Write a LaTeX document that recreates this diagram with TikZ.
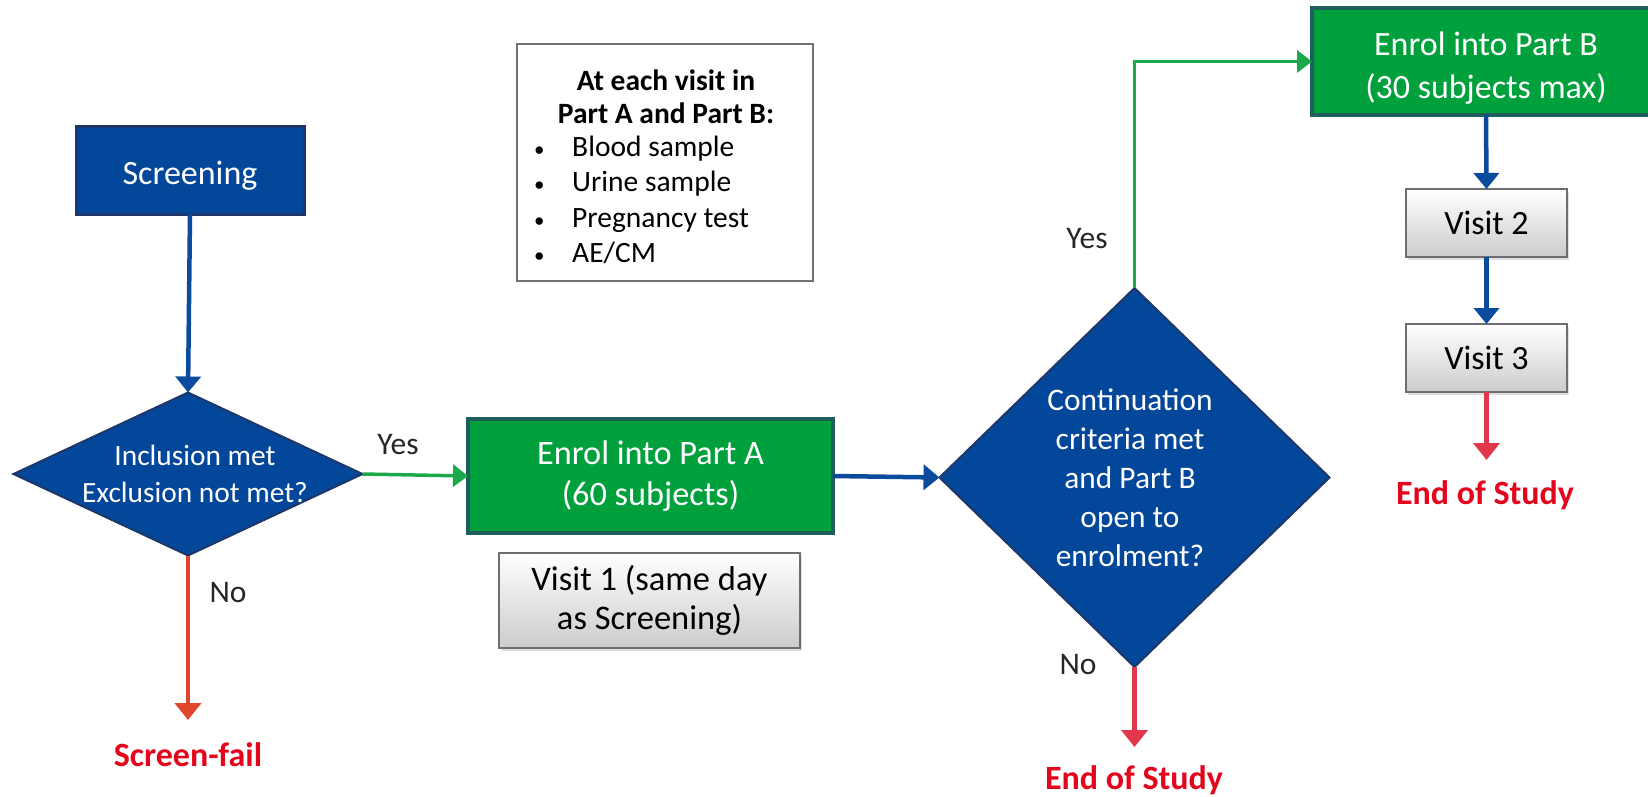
\documentclass[tikz,border=0pt]{standalone}
\usepackage{fontspec}
\setmainfont{Carlito}
\usetikzlibrary{shapes.geometric,arrows.meta,shadows}
\definecolor{navy}{HTML}{03479A}
\definecolor{navyedge}{HTML}{1F3768}
\definecolor{grn}{HTML}{00A13D}
\definecolor{grnedge}{HTML}{1E5E5C}
\definecolor{arrblue}{HTML}{0A4B9E}
\definecolor{arrgreen}{HTML}{1BA94C}
\definecolor{arrred}{HTML}{E2364B}
\definecolor{arrorange}{HTML}{E0452E}
\definecolor{redtxt}{HTML}{E3051C}
\definecolor{lbl}{HTML}{262626}
\definecolor{grayedge}{HTML}{6E6E6E}
\newcommand{\smbul}{\makebox[36pt][l]{\hspace{-2pt}{\fontsize{21}{21}\selectfont\textbullet}}}
\tikzset{
  bluebox/.style={rectangle, draw=navyedge, line width=3pt, fill=navy, text=white, inner sep=0pt, outer sep=0pt, align=center},
  greenbox/.style={rectangle, draw=grnedge, line width=3.5pt, fill=grn, text=white, inner sep=0pt, outer sep=0pt, align=center},
  graybox/.style={rectangle, draw=grayedge, line width=1.5pt, top color=white, bottom color=black!20, text=black, inner sep=0pt, outer sep=0pt, align=center,
     drop shadow={opacity=0.25, shadow xshift=2pt, shadow yshift=-2.5pt}},
  diam/.style={diamond, draw=navyedge, line width=2pt, fill=navy, inner sep=0pt, outer sep=0pt},
  dtext/.style={text=white, align=center, inner sep=0pt},
  infobox/.style={rectangle, draw=black!55, line width=1.5pt, fill=white, inner sep=0pt, outer sep=0pt},
  endtxt/.style={text=redtxt, font=\bfseries\fontsize{34}{40}\selectfont, inner sep=0pt},
  lab/.style={text=lbl, font=\fontsize{31.5}{36}\selectfont, inner sep=0pt},
  barrow/.style={draw=arrblue, line width=4.5pt, -{Triangle[width=25pt,length=16pt]}},
  garrow/.style={draw=arrgreen, line width=3.5pt, -{Triangle[width=22pt,length=15pt]}},
  rarrow/.style={draw=arrred, line width=4.5pt, -{Triangle[width=26pt,length=17pt]}},
  oarrow/.style={draw=arrorange, line width=4.5pt, -{Triangle[width=26pt,length=17pt]}},
}
\begin{document}
\begin{tikzpicture}[x=1pt,y=-1pt]
\useasboundingbox (0,0) rectangle (1648,796);
\clip (0,0) rectangle (1648,796);

% Screening
\node[bluebox, minimum width=228pt, minimum height=88pt, font=\fontsize{34}{40}\selectfont] (scr) at (190,170) {\rule{0pt}{34pt}Screening};

% Diamond 1
\node[diam, minimum width=349pt, minimum height=163pt] (d1) at (188,474) {};
\node[dtext, font=\fontsize{29.4}{37}\selectfont] (d1t) at (195,474) {Inclusion met\\Exclusion not met?};

% Info box
\node[infobox, minimum width=296pt, minimum height=237pt] (info) at (665,162.5) {};
\node[font=\bfseries\fontsize{29.5}{33}\selectfont, align=center, inner sep=0pt, text=black] (ih) at (666,97) {At each visit in\\Part A and Part B:};
\node[font=\fontsize{29.5}{35.5}\selectfont, align=left, anchor=west, inner sep=0pt, text=black] (il) at (536,200)
  {\smbul Blood sample\\\smbul Urine sample\\\smbul Pregnancy test\\\smbul AE/CM};

% Part A
\node[greenbox, minimum width=365pt, minimum height=114pt, font=\fontsize{34.3}{41}\selectfont] (ea) at (650.5,476) {Enrol into Part A\\(60 subjects)};
\node[graybox, minimum width=301pt, minimum height=95pt, font=\fontsize{34.5}{39}\selectfont] (v1) at (649.5,600.5) {Visit 1 (same day\\as Screening)};

% Diamond 2
\node[diam, minimum width=390pt, minimum height=379pt] (d2) at (1134.5,477.5) {};
\node[dtext, font=\fontsize{31.4}{39}\selectfont] (d2t) at (1130,478) {Continuation\\criteria met\\and Part B\\open to\\enrolment?};

% Part B
\node[greenbox, minimum width=348pt, minimum height=107pt, font=\fontsize{34}{43}\selectfont] (eb) at (1486,61.5) {\rule{0pt}{36pt}Enrol into Part B\\(30 subjects max)};
\node[graybox, minimum width=161pt, minimum height=68pt, font=\fontsize{34}{40}\selectfont] (v2) at (1486.5,223) {Visit 2};
\node[graybox, minimum width=161pt, minimum height=68pt, font=\fontsize{34}{40}\selectfont] (v3) at (1486.5,358) {Visit 3};

% End texts
\node[endtxt] (eos1) at (1485,495) {End of Study};
\node[endtxt] (eos2) at (1134,780) {End of Study};
\node[endtxt] (sf) at (188,755) {Screen-fail};

% Labels
\node[lab] (y1) at (398,444) {Yes};
\node[lab] (no1) at (228,592) {No};
\node[lab] (y2) at (1087,239) {Yes};
\node[lab] (no2) at (1078,664) {No};

% Tip coordinates
\coordinate (t1) at (1486.5,460);
\coordinate (t2) at (1134.5,747);
\coordinate (t3) at (188,720);

% Connectors
\draw[barrow] (scr.south) -- (d1.north);
\draw[garrow] (d1.east) -- (ea.west);
\draw[barrow] (ea.east) -- (d2.west);
\draw[garrow] (d2.north) |- (eb.west);
\draw[barrow] (eb.south) -- (v2.north);
\draw[barrow] (v2.south) -- (v3.north);
\draw[rarrow] (v3.south) -- (t1);
\draw[rarrow] (d2.south) -- (t2);
\draw[oarrow] (d1.south) -- (t3);
\end{tikzpicture}
\end{document}
